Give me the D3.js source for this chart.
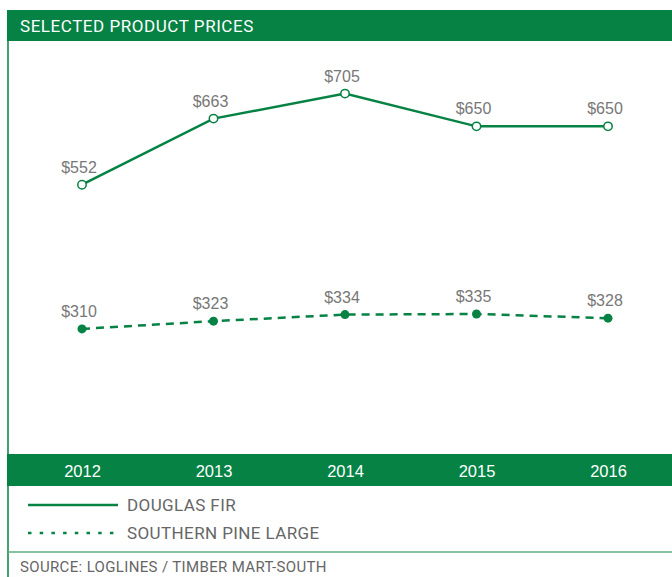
<!DOCTYPE html>
<html>
<head>
<meta charset="utf-8">
<script src="https://cdn.jsdelivr.net/npm/d3@7"></script>
<style>
  body { margin: 0; background: #fff; }
  svg { display: block; }
</style>
</head>
<body>
<svg id="chart"></svg>
<script>
// chart data
const years = ['2012', '2013', '2014', '2015', '2016'];
const douglasFir = [552, 663, 705, 650, 650];
const southernPine = [310, 323, 334, 335, 328];
const seriesNames = ['DOUGLAS FIR', 'SOUTHERN PINE LARGE'];
const title = 'SELECTED PRODUCT PRICES';
const source = 'SOURCE: LOGLINES / TIMBER MART-SOUTH';

const w = 672, h = 577;
const green = '#058244';
const narrow = 'Roboto, "Liberation Sans", sans-serif';
const labelFont = '"Liberation Sans", Arial, sans-serif';

const svg = d3.select('#chart')
    .attr('width', w)
    .attr('height', h);

// scales
const xScale = d3.scalePoint()
    .domain(years)
    .range([82, 608]);

const yScale = d3.scaleLinear()
    .domain([100, 800])
    .range([454, 37]);

// frame: title bar, left border, axis band, bottom rule
svg.append('rect')
    .attr('x', 7).attr('y', 10)
    .attr('width', w - 7).attr('height', 31)
    .attr('fill', green);
svg.append('text')
    .attr('x', 20).attr('y', 26)
    .attr('dominant-baseline', 'central')
    .attr('fill', '#fff')
    .style('font-family', narrow)
    .style('font-size', '17px')
    .style('letter-spacing', '0.55px')
    .text(title);

svg.append('line')
    .attr('x1', 8).attr('x2', 8)
    .attr('y1', 41).attr('y2', h)
    .attr('stroke', green)
    .attr('stroke-width', 1.5);

svg.append('rect')
    .attr('x', 7).attr('y', 454)
    .attr('width', w - 7).attr('height', 32)
    .attr('fill', green);

// x axis in the band
const xAxis = d3.axisBottom(xScale).tickSize(0).tickPadding(0);
const gx = svg.append('g')
    .attr('transform', 'translate(0,472)')
    .call(xAxis);
gx.select('.domain').remove();
gx.selectAll('text')
    .attr('dy', '0.32em')
    .attr('y', 0)
    .attr('fill', '#fff')
    .style('font-family', labelFont)
    .style('font-size', '16.5px');

svg.append('line')
    .attr('x1', 7).attr('x2', w)
    .attr('y1', 552).attr('y2', 552)
    .attr('stroke', '#5fae80')
    .attr('stroke-width', 1.5);

svg.append('text')
    .attr('x', 20).attr('y', 567)
    .attr('dominant-baseline', 'central')
    .attr('fill', '#666')
    .style('font-family', narrow)
    .style('font-size', '15px')
    .style('letter-spacing', '0.35px')
    .text(source);

// lines
const line = d3.line()
    .x((d, i) => xScale(years[i]))
    .y(d => yScale(d));

svg.append('path')
    .datum(douglasFir)
    .attr('d', line)
    .attr('fill', 'none')
    .attr('stroke', green)
    .attr('stroke-width', 2.5);

svg.append('path')
    .datum(southernPine)
    .attr('d', line)
    .attr('fill', 'none')
    .attr('stroke', green)
    .attr('stroke-width', 2.5)
    .attr('stroke-dasharray', '8,6');

// points
svg.selectAll('.fir-dot')
    .data(douglasFir)
    .join('circle')
    .attr('class', 'fir-dot')
    .attr('cx', (d, i) => xScale(years[i]))
    .attr('cy', d => yScale(d))
    .attr('r', 4.2)
    .attr('fill', '#fff')
    .attr('stroke', green)
    .attr('stroke-width', 1.5);

svg.selectAll('.pine-dot')
    .data(southernPine)
    .join('circle')
    .attr('class', 'pine-dot')
    .attr('cx', (d, i) => xScale(years[i]))
    .attr('cy', d => yScale(d))
    .attr('r', 4.5)
    .attr('fill', green);

// value labels
[douglasFir, southernPine].forEach((series, k) => {
    svg.selectAll('.lbl' + k)
        .data(series)
        .join('text')
        .attr('class', 'lbl' + k)
        .attr('x', (d, i) => xScale(years[i]) - 3)
        .attr('y', d => yScale(d) - 12)
        .attr('text-anchor', 'middle')
        .attr('fill', '#777')
        .style('font-family', labelFont)
        .style('font-size', '16px')
        .text(d => '$' + d);
});

// legend
const legend = svg.append('g');
legend.append('line')
    .attr('x1', 28).attr('x2', 118)
    .attr('y1', 505).attr('y2', 505)
    .attr('stroke', green)
    .attr('stroke-width', 2.5);
legend.append('line')
    .attr('x1', 28).attr('x2', 120)
    .attr('y1', 533).attr('y2', 533)
    .attr('stroke', green)
    .attr('stroke-width', 2.5)
    .attr('stroke-dasharray', '3.5,8.2');
legend.selectAll('.leg-text')
    .data(seriesNames)
    .join('text')
    .attr('class', 'leg-text')
    .attr('x', 127)
    .attr('y', (d, i) => 505 + i * 28)
    .attr('dominant-baseline', 'central')
    .attr('fill', '#666')
    .style('font-family', narrow)
    .style('font-size', '17px')
    .style('letter-spacing', '0.4px')
    .text(d => d);
</script>
</body>
</html>
